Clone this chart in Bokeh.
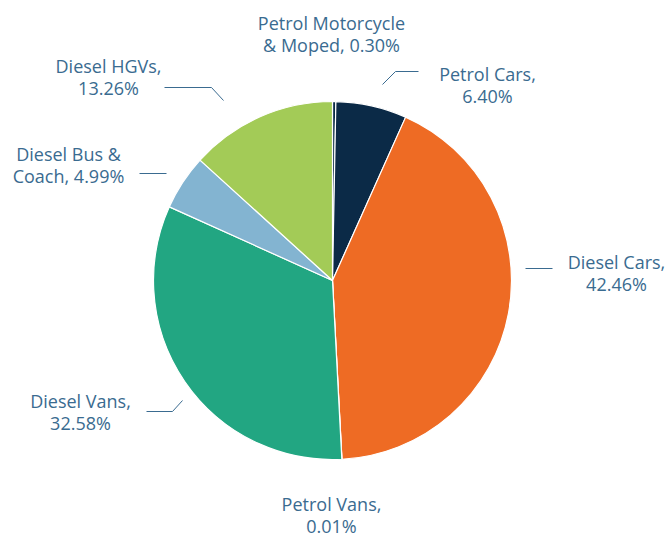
import numpy as np
from bokeh.plotting import figure
from bokeh.models import Range1d, ColumnDataSource
from bokeh.core.properties import value
from bokeh.embed import file_html
from bokeh.resources import INLINE

categories = ["Petrol Motorcycle & Moped", "Petrol Cars", "Diesel Cars", "Petrol Vans",
              "Diesel Vans", "Diesel Bus & Coach", "Diesel HGVs"]
shares = [0.30, 6.40, 42.46, 0.01, 32.58, 4.99, 13.26]
colors = ["#0b2a47", "#0b2a47", "#ee6b24", "#ee6b24", "#22a682", "#83b4d1", "#a3cb57"]

# label lines (split as in the original)
label_lines = [
    ["Petrol Motorcycle", "& Moped, 0.30%"],
    ["Petrol Cars,", "6.40%"],
    ["Diesel Cars,", "42.46%"],
    ["Petrol Vans,", "0.01%"],
    ["Diesel Vans,", "32.58%"],
    ["Diesel Bus &", "Coach, 4.99%"],
    ["Diesel HGVs,", "13.26%"],
]

H = 536
def Y(y):
    return H - y

p = figure(width=667, height=536, output_backend="svg", toolbar_location=None,
           x_range=Range1d(0, 667), y_range=Range1d(0, 536), min_border=0)
p.axis.visible = False
p.grid.visible = False
p.outline_line_color = None
p.background_fill_color = "white"

vals = np.array(shares)
frac = vals / vals.sum()
cum = np.concatenate([[0], np.cumsum(frac)])
start = np.pi / 2 - cum[:-1] * 2 * np.pi
end = np.pi / 2 - cum[1:] * 2 * np.pi
src = ColumnDataSource(dict(start=start, end=end, color=colors, name=categories))
cx, cy, r = 332, Y(280), 179
p.wedge(x=cx, y=cy, radius=r, start_angle="start", end_angle="end", direction="clock",
        fill_color="color", line_color="white", line_width=1.2, source=src)

txt_color = "#3a6b90"
label_pos = [(331, 22), (487, 73), (616, 261), (331, 503), (80, 400), (68, 153), (108, 65)]
for lines, (lx, ly) in zip(label_lines, label_pos):
    for i, t in enumerate(lines):
        p.text(x=[lx], y=[Y(ly + i * 22)], text=[t], text_align="center",
               text_baseline="middle", text_font=value("Open Sans"),
               text_font_size="18px", text_color=txt_color)

leaders = [
    ([382, 395, 418], [84, 71, 71]),
    ([164, 211, 223], [87, 87, 100]),
    ([139, 166], [173, 173]),
    ([525, 552], [268, 268]),
    ([146, 172, 182], [411, 411, 400]),
]
for xs, ys in leaders:
    p.line(x=xs, y=[Y(v) for v in ys], line_color=txt_color, line_width=1)

open("out.html", "w").write(file_html(p, INLINE))
